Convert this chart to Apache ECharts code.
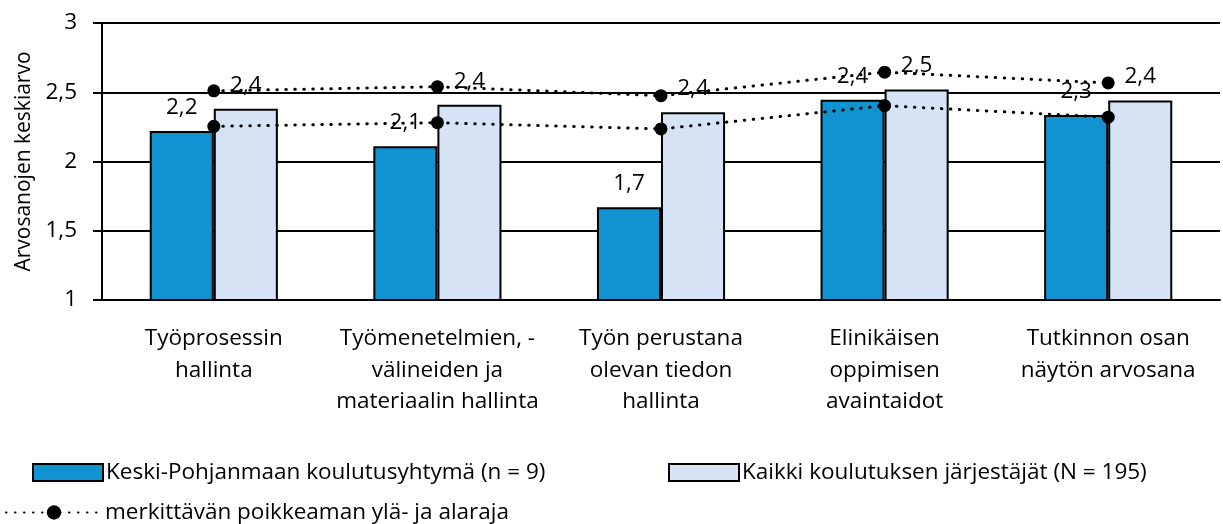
<!DOCTYPE html>
<html>
<head>
<meta charset="utf-8">
<script src="https://cdn.jsdelivr.net/npm/echarts@6/dist/echarts.min.js"></script>
<style>
html,body{margin:0;padding:0;background:#fff;}
#chart{width:1223px;height:524px;}
</style>
</head>
<body>
<div id="chart"></div>
<script>
const categories = [
  "Työprosessin\nhallinta",
  "Työmenetelmien, -\nvälineiden ja\nmateriaalin hallinta",
  "Työn perustana\nolevan tiedon\nhallinta",
  "Elinikäisen\noppimisen\navaintaidot",
  "Tutkinnon osan\nnäytön arvosana"
];
const seriesNames = [
  "Keski-Pohjanmaan koulutusyhtymä (n = 9)",
  "Kaikki koulutuksen järjestäjät (N = 195)",
  "merkittävän poikkeaman ylä- ja alaraja"
];
const keskiPohjanmaa = [2.22, 2.11, 1.67, 2.445, 2.335];
const kaikki = [2.38, 2.41, 2.355, 2.52, 2.44];
const ylaraja = [2.51, 2.54, 2.475, 2.645, 2.567];
const alaraja = [2.254, 2.28, 2.235, 2.403, 2.32];
const yTicks = [1, 1.5, 2, 2.5, 3];

const FONT = '"Open Sans", sans-serif';
const FS = 22.5;
const fmt = v => String(v).replace('.', ',');
const lbl = p => p.value.toFixed(1).replace('.', ',');
const dotted = {color: '#000', width: 3, type: [0.5, 8.5], cap: 'round'};

const chart = echarts.init(document.getElementById('chart'), null, {renderer: 'canvas'});
chart.setOption({
  animation: false,
  textStyle: {fontFamily: FONT, color: '#000'},
  grid: {left: 102, right: 3, top: 23, bottom: 224, containLabel: false},
  legend: [
    {
      data: [{name: seriesNames[0], icon: 'rect'}], left: 27, top: 456, itemWidth: 70, itemHeight: 17,
      textStyle: {fontFamily: FONT, fontSize: FS, color: '#000', padding: [0,0,0,-2]}
    },
    {
      data: [{name: seriesNames[1], icon: 'rect'}], left: 663, top: 456, itemWidth: 70, itemHeight: 17,
      textStyle: {fontFamily: FONT, fontSize: FS, color: '#000', padding: [0,0,0,-2]}
    },
    {
      data: [seriesNames[2]], left: 0, top: 496, itemWidth: 96, itemHeight: 18,
      textStyle: {fontFamily: FONT, fontSize: FS, color: '#000', padding: [0,0,0,-2]}
    }
  ],
  xAxis: {
    type: 'category',
    data: categories,
    axisLine: {show: true, lineStyle: {color: '#000', width: 2}},
    axisTick: {show: false},
    axisLabel: {fontFamily: FONT, fontSize: FS, color: '#000', lineHeight: 31.5, margin: 23, interval: 0}
  },
  yAxis: {
    type: 'value',
    min: 1, max: 3, interval: 0.5,
    name: 'Arvosanojen keskiarvo',
    nameLocation: 'middle',
    nameGap: 66,
    nameTextStyle: {fontFamily: FONT, fontSize: 21, color: '#000'},
    axisLine: {show: true, lineStyle: {color: '#000', width: 2}},
    axisTick: {show: true, length: 9, lineStyle: {color: '#000', width: 2}},
    axisLabel: {fontFamily: FONT, fontSize: FS, color: '#000', margin: 25, formatter: v => fmt(v)},
    splitLine: {show: true, lineStyle: {color: '#000', width: 2}}
  },
  series: [
    {
      name: seriesNames[0], type: 'bar', data: keskiPohjanmaa,
      barGap: '0%', barCategoryGap: '42.7%',
      itemStyle: {color: '#1192d1', borderColor: '#000', borderWidth: 2},
      label: {show: true, position: 'top', distance: 12, formatter: lbl, fontFamily: FONT, fontSize: FS, color: '#000'}
    },
    {
      name: seriesNames[1], type: 'bar', data: kaikki,
      barGap: '0%', barCategoryGap: '42.7%',
      itemStyle: {color: '#d5e3f5', borderColor: '#000', borderWidth: 2},
      label: {show: true, position: 'top', distance: 12, formatter: lbl, fontFamily: FONT, fontSize: FS, color: '#000'}
    },
    {
      name: seriesNames[2], type: 'line', data: ylaraja, z: 5,
      symbol: 'circle', symbolSize: 13,
      itemStyle: {color: '#000'},
      lineStyle: dotted
    },
    {
      name: seriesNames[2], type: 'line', data: alaraja, z: 5,
      symbol: 'circle', symbolSize: 13,
      itemStyle: {color: '#000'},
      lineStyle: dotted
    }
  ]
});
</script>
</body>
</html>
